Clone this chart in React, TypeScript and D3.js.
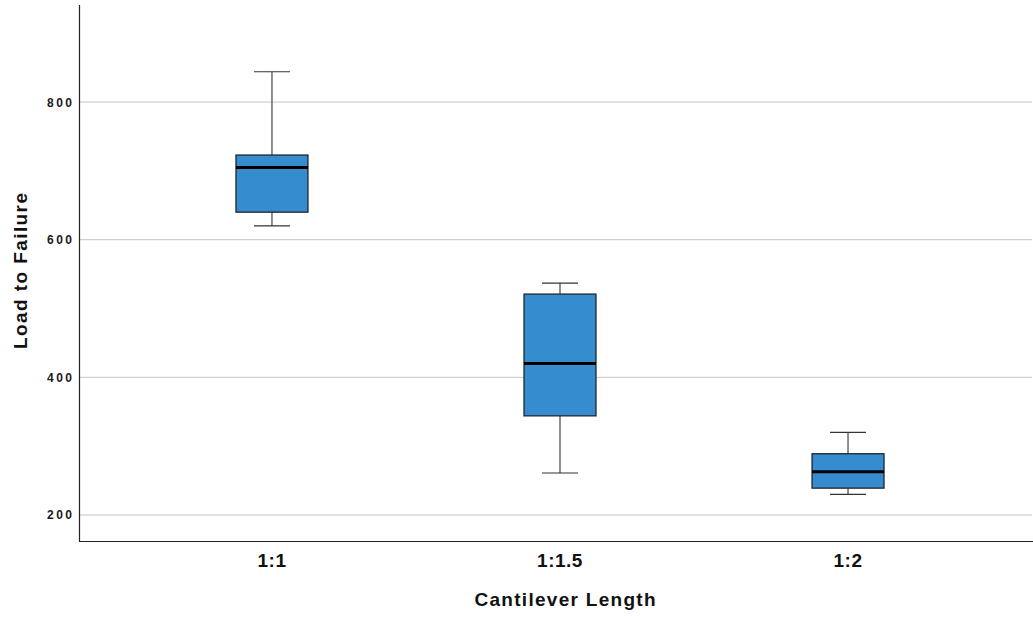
import React from "react";
import * as d3 from "d3";

const categories = ["1:1", "1:1.5", "1:2"];
const whiskerLow = [620, 261, 230];
const q1 = [640, 344, 239];
const medians = [705, 420, 263];
const q3 = [723, 521, 289];
const whiskerHigh = [844, 537, 320];
const yTicks = [200, 400, 600, 800];

const W = 1033;
const H = 617;
const left = 79;
const top = 5;
const bottom = 541;
const right = 1032;
const font = "'Liberation Sans', Arial, Helvetica, sans-serif";

export default function App() {
  const y = d3.scaleLinear().domain([162.2, 941]).range([bottom, top]);
  const x = d3.scalePoint<string>().domain(categories).range([left, 1041]).padding(0.67);
  const step = x.step();
  const boxW = step * 0.25;
  const capW = boxW / 2;

  return (
    <svg width={W} height={H} style={{ position: "absolute", left: 0, top: 0, background: "#fff" }}>
      {yTicks.map((t) => (
        <g key={t}>
          <line x1={left} x2={right} y1={y(t)} y2={y(t)} stroke="#c4c4c4" strokeWidth={1} />
          <text
            x={72}
            y={y(t) + 4.5}
            textAnchor="end"
            fontFamily={font}
            fontWeight="bold"
            fontSize={12}
            textLength={25}
            lengthAdjust="spacing"
            fill="#1a1a1a"
          >
            {t}
          </text>
        </g>
      ))}
      {categories.map((c, i) => {
        const cx = x(c)!;
        return (
          <g key={c}>
            <line x1={cx} x2={cx} y1={y(whiskerHigh[i])} y2={y(q3[i])} stroke="#444" strokeWidth={1.2} />
            <line x1={cx} x2={cx} y1={y(q1[i])} y2={y(whiskerLow[i])} stroke="#444" strokeWidth={1.2} />
            <line x1={cx - capW / 2} x2={cx + capW / 2} y1={y(whiskerHigh[i])} y2={y(whiskerHigh[i])} stroke="#333" strokeWidth={1.2} />
            <line x1={cx - capW / 2} x2={cx + capW / 2} y1={y(whiskerLow[i])} y2={y(whiskerLow[i])} stroke="#333" strokeWidth={1.2} />
            <rect
              x={cx - boxW / 2}
              y={y(q3[i])}
              width={boxW}
              height={y(q1[i]) - y(q3[i])}
              fill="#358ccf"
              stroke="#1a1a1a"
              strokeWidth={1.2}
            />
            <line x1={cx - boxW / 2} x2={cx + boxW / 2} y1={y(medians[i])} y2={y(medians[i])} stroke="#000" strokeWidth={3} />
            <text
              x={cx}
              y={567}
              textAnchor="middle"
              fontFamily={font}
              fontWeight="bold"
              fontSize={19}
              letterSpacing={0.5}
              fill="#111"
            >
              {c}
            </text>
          </g>
        );
      })}
      <line x1={left + 0.5} x2={left + 0.5} y1={top} y2={bottom} stroke="#222" strokeWidth={1.2} />
      <line x1={left} x2={W} y1={bottom + 0.5} y2={bottom + 0.5} stroke="#222" strokeWidth={1.2} />
      <text
        x={565}
        y={606}
        textAnchor="middle"
        fontFamily={font}
        fontWeight="bold"
        fontSize={19}
        textLength={181}
        lengthAdjust="spacing"
        fill="#111"
      >
        Cantilever Length
      </text>
      <text
        transform={`translate(27, 271) rotate(-90)`}
        textAnchor="middle"
        fontFamily={font}
        fontWeight="bold"
        fontSize={19}
        textLength={156}
        lengthAdjust="spacing"
        fill="#111"
      >
        Load to Failure
      </text>
    </svg>
  );
}
